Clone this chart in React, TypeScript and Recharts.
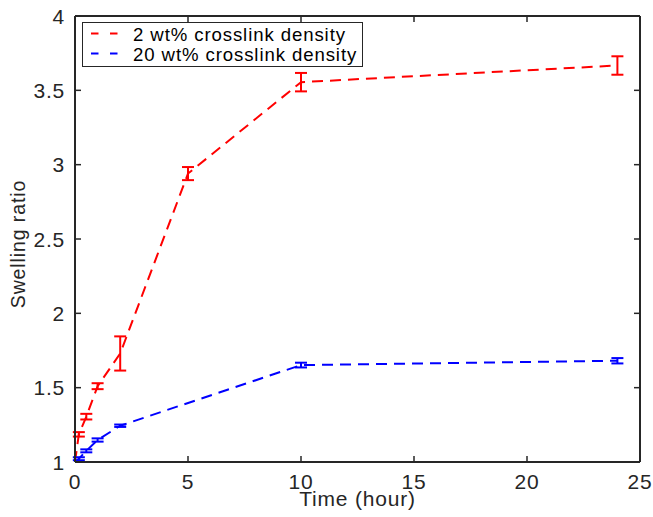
import React from 'react';
import { ComposedChart, Line, XAxis, YAxis, ErrorBar, Legend, Label, ReferenceLine } from 'recharts';

const time2 = [0, 0.17, 0.5, 1, 2, 5, 10, 24];
const ratio2 = [1.0, 1.186, 1.305, 1.51, 1.73, 2.94, 3.555, 3.667];
const err2 = [0, 0.015, 0.019, 0.02, 0.115, 0.044, 0.062, 0.062];

const time20 = [0, 0.17, 0.5, 1, 2, 10, 24];
const ratio20 = [1.0, 1.022, 1.075, 1.148, 1.244, 1.652, 1.681];
const err20 = [0, 0.01, 0.01, 0.011, 0.008, 0.016, 0.018];

const xTicks = [0, 5, 10, 15, 20, 25];
const yTicks = [1, 1.5, 2, 2.5, 3, 3.5, 4];
const seriesNames = ['2 wt% crosslink density', '20 wt% crosslink density'];
const seriesColors = ['#ff0000', '#0000ff'];
const xLabel = 'Time (hour)';
const yLabel = 'Swelling ratio';

const data2 = time2.map((t, i) => ({ t, y: ratio2[i], e: err2[i] }));
const data20 = time20.map((t, i) => ({ t, y: ratio20[i], e: err20[i] }));

const W = 653;
const H = 517;
const MARGIN = { top: 16, right: 13, bottom: 10, left: 15 };
const PLOT_TOP = MARGIN.top;
const PLOT_RIGHT = W - MARGIN.right;

const AX = '#262626';
const FONT = '"Liberation Sans", Arial, Helvetica, sans-serif';
const TL = 6;

const BottomTick = (p: any) => (
  <g>
    <line x1={p.x} y1={p.y} x2={p.x} y2={p.y - TL} stroke={AX} strokeWidth={1.5} />
    <line x1={p.x} y1={PLOT_TOP} x2={p.x} y2={PLOT_TOP + TL} stroke={AX} strokeWidth={1.5} />
    <text x={p.x} y={p.y + 26.5} textAnchor="middle" fill={AX} fontSize={21} fontFamily={FONT} letterSpacing={0.8}>
      {p.payload.value}
    </text>
  </g>
);
const LeftTick = (p: any) => (
  <g>
    <line x1={p.x} y1={p.y} x2={p.x + TL} y2={p.y} stroke={AX} strokeWidth={1.5} />
    <line x1={PLOT_RIGHT} y1={p.y} x2={PLOT_RIGHT - TL} y2={p.y} stroke={AX} strokeWidth={1.5} />
    <text x={p.x - 10} y={p.y + 7.5} textAnchor="end" fill={AX} fontSize={21} fontFamily={FONT} letterSpacing={0.8}>
      {p.payload.value}
    </text>
  </g>
);

const LegendBox = () => (
  <svg width={282} height={46} style={{ display: 'block' }}>
    <rect x={0.5} y={0.5} width={280} height={44} fill="#ffffff" stroke={AX} strokeWidth={1} />
    {seriesNames.map((name, i) => (
      <g key={name}>
        <line x1={9} x2={36.5} y1={11.5 + i * 20} y2={11.5 + i * 20} stroke={seriesColors[i]} strokeWidth={2} strokeDasharray="7.5 11.5" />
        <text x={51} y={18.7 + i * 20} fill="#000" fontSize={18.6} fontFamily={FONT} letterSpacing={0.9}>
          {name}
        </text>
      </g>
    ))}
  </svg>
);

export default function App() {
  return (
    <div style={{ position: 'absolute', left: 0, top: 0, background: '#fff' }}>
      <ComposedChart width={W} height={H} margin={MARGIN}>
        <ReferenceLine xAxisId="b" yAxisId="l" y={4} stroke={AX} strokeWidth={2} ifOverflow="visible" />
        <ReferenceLine xAxisId="b" yAxisId="l" x={25} stroke={AX} strokeWidth={2} ifOverflow="visible" />
        <XAxis
          xAxisId="b"
          dataKey="t"
          type="number"
          domain={[0, 25]}
          ticks={xTicks}
          allowDataOverflow
          height={45}
          tickSize={0}
          tickMargin={0}
          tickLine={false}
          axisLine={{ stroke: AX, strokeWidth: 2 }}
          tick={BottomTick}
          interval={0}
        >
          <Label
            content={(p: any) => {
              const vb = p.viewBox;
              return (
                <text x={vb.x + vb.width / 2} y={506} textAnchor="middle" fill={AX} fontSize={21} fontFamily={FONT} letterSpacing={0.8}>
                  {xLabel}
                </text>
              );
            }}
          />
        </XAxis>
        <YAxis
          yAxisId="l"
          type="number"
          domain={[1, 4]}
          ticks={yTicks}
          allowDataOverflow
          width={60}
          tickSize={0}
          tickMargin={0}
          tickLine={false}
          axisLine={{ stroke: AX, strokeWidth: 2 }}
          tick={LeftTick}
          interval={0}
        >
          <Label
            content={(p: any) => {
              const vb = p.viewBox;
              const cx = 25;
              const cy = vb.y + vb.height / 2 + 5;
              return (
                <text x={cx} y={cy} transform={`rotate(-90, ${cx}, ${cy})`} textAnchor="middle" fill={AX} fontSize={19.5} fontFamily={FONT} letterSpacing={0.9}>
                  {yLabel}
                </text>
              );
            }}
          />
        </YAxis>
        <Legend
          layout="horizontal"
          verticalAlign="middle"
          align="center"
          wrapperStyle={{ position: 'absolute', left: 82, top: 22, width: 282, height: 46 }}
          content={() => <LegendBox />}
        />
        <Line
          xAxisId="b"
          yAxisId="l"
          data={data2}
          dataKey="y"
          name={seriesNames[0]}
          type="linear"
          stroke={seriesColors[0]}
          strokeWidth={2}
          strokeDasharray="11 7"
          dot={false}
          activeDot={false}
          isAnimationActive={false}
        >
          <ErrorBar dataKey="e" direction="y" width={6} stroke={seriesColors[0]} strokeWidth={2} isAnimationActive={false} />
        </Line>
        <Line
          xAxisId="b"
          yAxisId="l"
          data={data20}
          dataKey="y"
          name={seriesNames[1]}
          type="linear"
          stroke={seriesColors[1]}
          strokeWidth={2}
          strokeDasharray="11 7"
          dot={false}
          activeDot={false}
          isAnimationActive={false}
        >
          <ErrorBar dataKey="e" direction="y" width={6} stroke={seriesColors[1]} strokeWidth={2} isAnimationActive={false} />
        </Line>
      </ComposedChart>
    </div>
  );
}
